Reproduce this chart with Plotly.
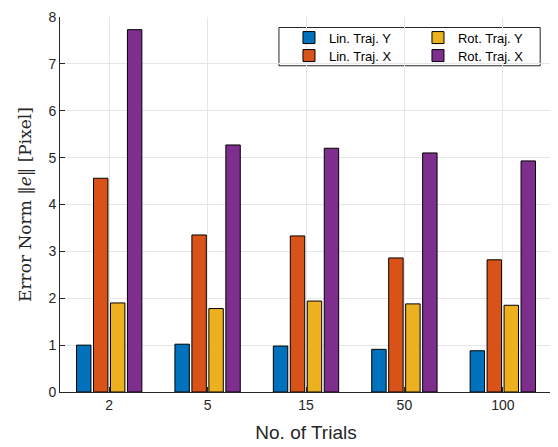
import plotly.graph_objects as go

categories = ["2", "5", "15", "50", "100"]
lin_y = [1.00, 1.02, 0.98, 0.91, 0.88]
lin_x = [4.56, 3.35, 3.33, 2.86, 2.82]
rot_y = [1.90, 1.78, 1.94, 1.88, 1.85]
rot_x = [7.73, 5.27, 5.20, 5.10, 4.93]

series = [
    ("Lin. Traj. Y", lin_y, "#0072BD", "legend"),
    ("Lin. Traj. X", lin_x, "#D95319", "legend2"),
    ("Rot. Traj. Y", rot_y, "#EDB120", "legend3"),
    ("Rot. Traj. X", rot_x, "#7E2F8E", "legend4"),
]

fig = go.Figure()
for name, vals, color, lg in series:
    fig.add_trace(go.Bar(
        x=categories, y=vals, name=name, legend=lg,
        marker=dict(color=color, line=dict(color="#000000", width=1)),
    ))

axis_font = dict(family="Liberation Sans, Arial, sans-serif", size=14, color="#262626")
leg_font = dict(family="Liberation Sans, Arial, sans-serif", size=13, color="#000000")

def leg(x, y):
    return dict(x=x, y=y, xanchor="left", yanchor="middle",
                bgcolor="rgba(0,0,0,0)", borderwidth=0, font=leg_font,
                tracegroupgap=0, itemwidth=30)

fig.update_layout(
    width=550, height=439,
    margin=dict(l=52, r=6, t=9, b=55, autoexpand=False),
    plot_bgcolor="white", paper_bgcolor="white",
    barmode="group", bargap=0.31, bargroupgap=0.15,
    font=axis_font,
    showlegend=True,
    legend=leg(0.4654, 0.945),
    legend2=leg(0.4654, 0.897),
    legend3=leg(0.7276, 0.945),
    legend4=leg(0.7276, 0.897),
    shapes=[dict(type="rect", xref="paper", yref="paper",
                 x0=0.445, x1=0.976, y0=0.870, y1=0.972,
                 line=dict(color="#262626", width=1), fillcolor="white", layer="below")],
    xaxis=dict(
        title=dict(text="No. of Trials", font=dict(size=19, color="#262626"), standoff=13),
        automargin=False,
        range=[-0.5, 4.5], showgrid=True, gridcolor="#e6e6e6",
        showline=True, linecolor="#262626", linewidth=1,
        ticks="inside", ticklen=5, tickcolor="#262626",
        tickfont=axis_font, zeroline=False,
    ),
    yaxis=dict(
        title=dict(text="Error Norm ‖<i>e</i>‖ [Pixel]",
                   font=dict(family="DejaVu Serif, Liberation Serif, serif", size=17, color="#262626"),
                   standoff=12),
        automargin=False,
        range=[0, 8], dtick=1, showgrid=True, gridcolor="#e6e6e6",
        showline=True, linecolor="#262626", linewidth=1,
        ticks="inside", ticklen=5, tickcolor="#262626",
        tickfont=axis_font, zeroline=False, ticklabeloverflow="allow",
    ),
)

fig.write_html("out.html")
